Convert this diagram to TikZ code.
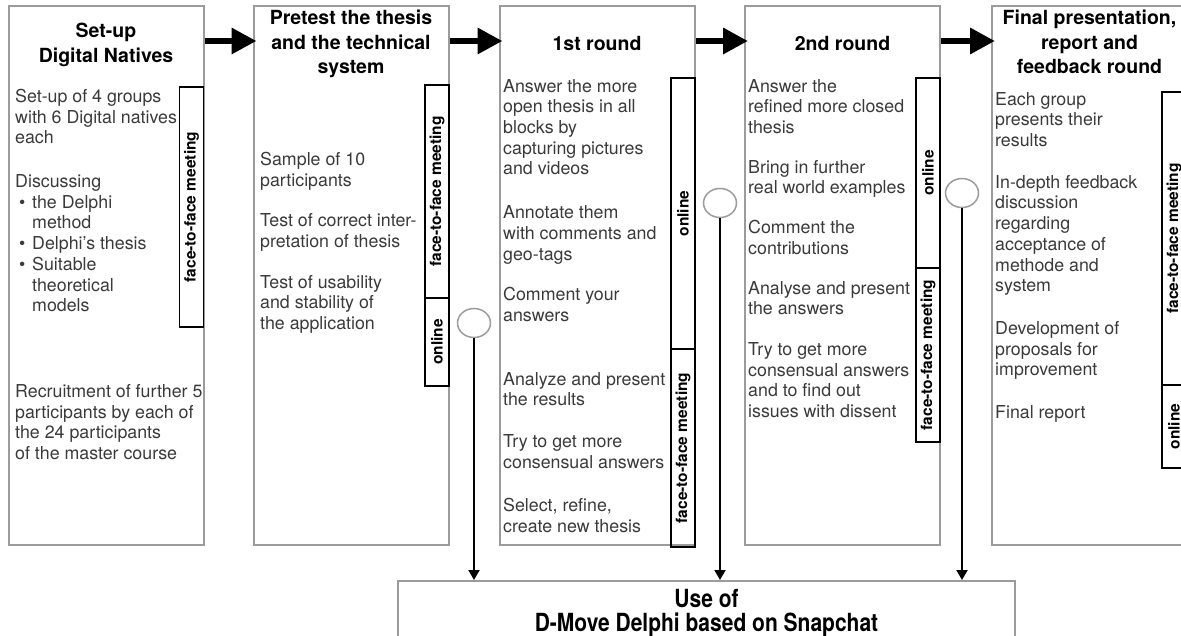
\documentclass[tikz,border=0pt]{standalone}
\usepackage{fontspec}
\setmainfont{TeX Gyre Heros}
\newfontfamily\condfont[FakeStretch=0.84]{TeX Gyre Heros}
\usetikzlibrary{arrows.meta,positioning,shapes.geometric}
\definecolor{framegray}{HTML}{9B9B9B}
\definecolor{textgray}{HTML}{3A3A3A}

\begin{document}
\begin{tikzpicture}[x=1pt,y=-1pt]
  \tikzset{
    column/.style={draw=framegray, line width=2pt, minimum width=195pt, minimum height=539pt, inner sep=0pt},
    title/.style={font=\fontsize{19.5}{24.5}\selectfont\bfseries, align=center, anchor=north, inner sep=0pt},
    body/.style={font=\fontsize{17.8}{20.7}\selectfont, text=textgray, align=left, anchor=north west, inner sep=0pt},
    tag/.style={draw, line width=1.3pt, rotate=90, font=\fontsize{15.5}{18}\selectfont\bfseries, inner sep=0pt, minimum height=24pt},
    hub/.style={ellipse, draw=framegray, fill=white, line width=1.5pt, minimum width=33pt, minimum height=29pt, inner sep=0pt},
    flow/.style={line width=6.5pt, -{Triangle[length=25pt,width=25pt]}},
    drop/.style={line width=2pt, -{Triangle[length=10pt,width=11pt]}}
  }
  \clip (0,0) rectangle (1181,636);
  % Columns
  \node[column] (setup) at (106,275.5) {};
  \node[column] (pretest) at (351,275.5) {};
  \node[column] (first-round) at (597,275.5) {};
  \node[column] (second-round) at (842.5,275.5) {};
  \node[column] (final) at (1089.5,275.5) {};
  % Column Titles
  \node[title] (setup-title) at (106,23) {Set-up\\Digital Natives};
  \node[title] (pretest-title) at (351,10) {Pretest the thesis\\and the technical\\system};
  \node[title] (first-round-title) at (597,36) {1st round};
  \node[title] (second-round-title) at (842.5,36) {2nd round};
  \node[title] (final-title) at (1089.5,10) {Final presentation,\\report and\\feedback round};
  % Column Texts
  \node[body] (setup-text) at (15,89) {Set-up of 4 groups\\with 6 Digital natives\\each\\[23pt]
    Discussing\\
    \makebox[17pt][l]{\hspace{4pt}\textbullet}the Delphi\\
    \hspace{17pt}method\\
    \makebox[17pt][l]{\hspace{4pt}\textbullet}Delphi’s thesis\\
    \makebox[17pt][l]{\hspace{4pt}\textbullet}Suitable\\
    \hspace{17pt}theoretical\\
    \hspace{17pt}models\\[65pt]
    Recruitment of further 5\\participants by each of\\the 24 participants\\of the master course};
  \node[body] (pretest-text) at (260,152) {Sample of 10\\participants\\[20pt]
    Test of correct inter-\\pretation of thesis\\[20pt]
    Test of usability\\and stability of\\the application};
  \node[body] (first-round-text) at (503,79) {Answer the more\\open thesis in all\\blocks by\\capturing pictures\\and videos\\[23pt]
    Annotate them\\with comments and\\geo-tags\\[20pt]
    Comment your\\answers\\[43pt]
    Analyze and present\\the results\\[21pt]
    Try to get more\\consensual answers\\[23pt]
    Select, refine,\\create new thesis};
  \node[body] (second-round-text) at (748,79) {Answer the\\refined more closed\\thesis\\[19pt]
    Bring in further\\real world examples\\[19pt]
    Comment the\\contributions\\[19pt]
    Analyse and present\\the answers\\[20pt]
    Try to get more\\consensual answers\\and to find out\\issues with dissent};
  \node[body] (final-text) at (995,92) {Each group\\presents their\\results\\[21pt]
    In-depth feedback\\discussion\\regarding\\acceptance of\\methode and\\system\\[22pt]
    Development of\\proposals for\\improvement\\[22pt]
    Final report};
  % Meeting Tags
  \node[tag, minimum width=240pt] (setup-meet) at (191.5,207) {face-to-face meeting};
  \node[tag, minimum width=213pt] (pretest-meet) at (437,191.5) {face-to-face meeting};
  \node[tag, minimum width=88pt] (pretest-online) at (437,342) {online};
  \node[tag, minimum width=271pt] (first-round-online) at (683,213.5) {online};
  \node[tag, minimum width=198pt] (first-round-meet) at (683,448) {face-to-face meeting};
  \node[tag, minimum width=190pt] (second-round-online) at (928,173) {online};
  \node[tag, minimum width=174pt] (second-round-meet) at (928,355) {face-to-face meeting};
  \node[tag, minimum width=293pt] (final-meet) at (1174,238.5) {face-to-face meeting};
  \node[tag, minimum width=83pt] (final-online) at (1174,426.5) {online};
  % App Box
  \node[draw=framegray, line width=2pt, minimum width=617pt, minimum height=64pt, inner sep=0pt,
    align=center, font=\fontsize{25}{24}\condfont\bfseries] (snapchat) at (706.5,613)
    {Use of\\D-Move Delphi based on Snapchat};
  % Hubs
  \node[hub] (pretest-hub) at (474,323) {};
  \node[hub] (first-round-hub) at (720,203) {};
  \node[hub] (second-round-hub) at (962,193) {};
  % Flow Arrows
  \draw[flow] ([yshift=-36pt]setup.north east) -- ([xshift=4pt,yshift=-36pt]pretest.north west);
  \draw[flow] ([yshift=-36pt]pretest.north east) -- ([xshift=4pt,yshift=-36pt]first-round.north west);
  \draw[flow] ([yshift=-36pt]first-round.north east) -- ([xshift=4pt,yshift=-36pt]second-round.north west);
  \draw[flow] ([yshift=-36pt]second-round.north east) -- ([xshift=4pt,yshift=-36pt]final.north west);
  \draw[drop] (pretest-hub.south) -- (pretest-hub.south |- snapchat.north);
  \draw[drop] (first-round-hub.south) -- (first-round-hub.south |- snapchat.north);
  \draw[drop] (second-round-hub.south) -- (second-round-hub.south |- snapchat.north);
\end{tikzpicture}
\end{document}
